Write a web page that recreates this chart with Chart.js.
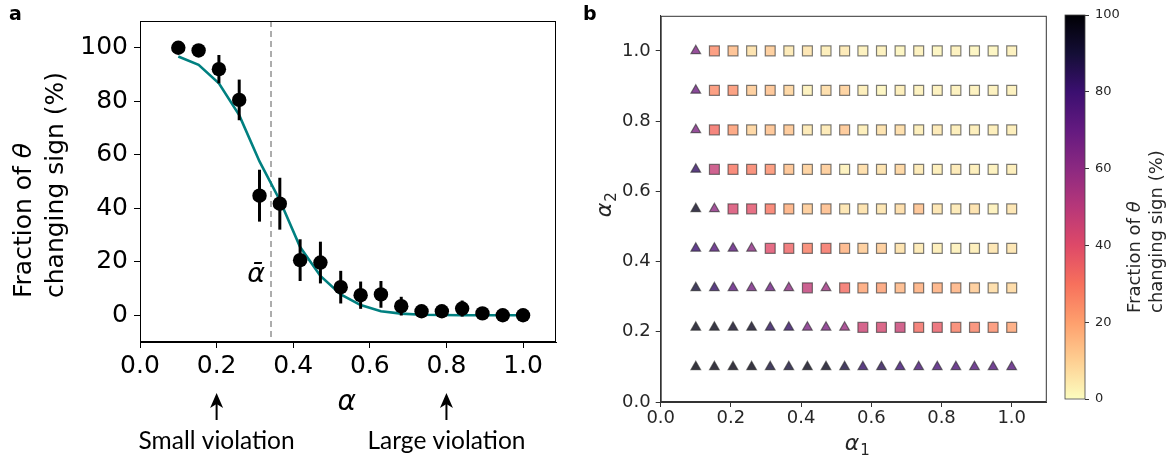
<!DOCTYPE html>
<html>
<head>
<meta charset="utf-8">
<script src="https://cdn.jsdelivr.net/npm/chart.js@4.4.1/dist/chart.umd.min.js"></script>
<style>
body{margin:0;background:#fff;width:1172px;height:462px;position:relative;overflow:hidden}
.box{position:absolute;top:0}
</style>
</head>
<body>
<div class="box" style="left:0"><canvas id="chartA" width="580" height="462"></canvas></div>
<div class="box" style="left:580px"><canvas id="chartB" width="475" height="462"></canvas></div>
<div class="box" style="left:1055px"><canvas id="chartC" width="117" height="462"></canvas></div>
<script>
// ---- panel a data
const ALPHA = [0.10, 0.153, 0.206, 0.259, 0.312, 0.365, 0.418, 0.471, 0.524, 0.576, 0.629, 0.682, 0.735, 0.788, 0.841, 0.894, 0.947, 1.00]
const FRACTION = [100, 99, 92, 80.5, 44.7, 41.7, 20.6, 19.7, 10.5, 7.5, 7.8, 3.4, 1.5, 1.5, 2.5, 0.7, 0, 0]
const FRACTION_ERR = [0, 0, 5.3, 7.6, 9.7, 9.7, 7.8, 7.8, 6.1, 5.1, 5, 3.5, 1.5, 1.5, 3, 0.5, 0, 0]
const FIT = [96.7, 93.6, 86.7, 74.8, 57.5, 43, 25.5, 14.7, 7.8, 3.8, 1.5, 0.6, 0.2, 0.1, 0, 0, 0, 0]
const ALPHA_BAR = 0.342
const X_TICKS_A = [0, 0.2, 0.4, 0.6, 0.8, 1.0]
const Y_TICKS_A = [0, 20, 40, 60, 80, 100]

// ---- panel b data (rows from alpha2 = 0.1 up to 1.0)
const ALPHA1 = [0.10, 0.153, 0.206, 0.259, 0.312, 0.365, 0.418, 0.471, 0.524, 0.576, 0.629, 0.682, 0.735, 0.788, 0.841, 0.894, 0.947, 1.00]
const ALPHA2 = [0.1, 0.2125, 0.325, 0.4375, 0.55, 0.6625, 0.775, 0.8875, 1.0]
const ROW_1 = [98, 97, 97, 97, 90, 90, 96, 95, 89, 82, 85, 80, 78, 77, 76, 75, 75, 74]
const ROW_2 = [96, 96, 94, 94, 84, 82, 64, 64, 57, 45, 43, 46, 32, 36, 28, 27, 25, 20]
const ROW_3 = [90, 82, 72, 66, 68, 60, 48, 56, 32, 20, 21, 16, 18, 18, 17, 12, 8, 9]
const ROW_4 = [80, 74, 72, 60, 40, 34, 28, 31, 17, 12, 12, 7, 5, 4, 3, 4, 6, 6]
const ROW_5 = [94, 60, 42, 39, 30, 18, 12, 15, 6, 7, 6, 8, 14, 6, 5, 7, 3, 6]
const ROW_6 = [82, 47, 30, 28, 25, 14, 11, 12, 3, 8, 7, 10, 5, 4, 5, 4, 3, 4]
const ROW_7 = [64, 32, 22, 10, 14, 13, 5, 5, 13, 4, 7, 8, 4, 5, 4, 4, 4, 4]
const ROW_8 = [68, 25, 24, 12, 14, 10, 3, 8, 11, 4, 2, 4, 3, 3, 3, 3, 3, 3]
const ROW_9 = [64, 25, 15, 7, 12, 5, 6, 4, 5, 3, 3, 2, 3, 2, 3, 2, 2, 3]
const TICKS_B = [0, 0.2, 0.4, 0.6, 0.8, 1.0]
const CB_TICKS = [0, 20, 40, 60, 80, 100]

const GRID_ROWS = [ROW_1, ROW_2, ROW_3, ROW_4, ROW_5, ROW_6, ROW_7, ROW_8, ROW_9]
const gridPoints = []
GRID_ROWS.forEach((row, j) => row.forEach((v, i) => gridPoints.push({x: ALPHA1[i], y: ALPHA2[j], v})))

// magma colour map, reversed (0 -> pale yellow, 100 -> black)
const MAGMA = ['#000004','#140e36','#3b0f70','#641a80','#8c2981','#b73779','#de4968','#f7705c','#fe9f6d','#fecf92','#fcfdbf']
const magmaRgb = MAGMA.map(h => [1, 3, 5].map(k => parseInt(h.slice(k, k + 2), 16)))
function magmaR(v, a){
    const p = (1 - v / 100) * 10
    const i = Math.min(9, Math.floor(p)), f = p - i
    const rgb = magmaRgb[i].map((c, k) => Math.round(c + (magmaRgb[i + 1][k] - c) * f))
    return `rgba(${rgb.join(',')},${a})`
}

Chart.defaults.font.family = '"DejaVu Sans", sans-serif'
Chart.defaults.animation = false
Chart.defaults.events = []
Chart.defaults.plugins.legend.display = false
Chart.defaults.plugins.tooltip.enabled = false

// two-line rotated label, "θ" in italic like matplotlib mathtext
function rotatedLabel(ctx, xs, yBottom, size, color){
    ctx.save()
    ctx.fillStyle = color
    ctx.textAlign = 'left'
    ctx.textBaseline = 'middle'
    const plain = `${size}px "DejaVu Sans"`
    const ital = `italic ${size}px "DejaVu Sans"`
    ctx.save()
    ctx.translate(xs[0], yBottom)
    ctx.rotate(-Math.PI / 2)
    ctx.font = plain
    ctx.fillText('Fraction of ', 0, 0)
    const w = ctx.measureText('Fraction of ').width
    ctx.font = ital
    ctx.fillText('θ', w, 0)
    ctx.restore()
    ctx.translate(xs[1], yBottom)
    ctx.rotate(-Math.PI / 2)
    ctx.font = plain
    ctx.fillText('changing sign (%)', 0, 0)
    ctx.restore()
}

function drawArrow(ctx, x, yTip, yTail){
    ctx.beginPath()
    ctx.moveTo(x, yTail)
    ctx.lineTo(x, yTip + 8)
    ctx.lineWidth = 2
    ctx.strokeStyle = '#000'
    ctx.stroke()
    ctx.beginPath()
    ctx.moveTo(x, yTip)
    ctx.lineTo(x - 6.5, yTip + 15)
    ctx.lineTo(x, yTip + 11)
    ctx.lineTo(x + 6.5, yTip + 15)
    ctx.closePath()
    ctx.fillStyle = '#000'
    ctx.fill()
}

// ---- panel a
const panelA = {
    id: 'panelA',
    beforeDatasetsDraw(chart){
        const {ctx, chartArea, scales: {x}} = chart
        const px = x.getPixelForValue(ALPHA_BAR)
        ctx.save()
        ctx.strokeStyle = '#999'
        ctx.lineWidth = 1.6
        ctx.setLineDash([6, 4])
        ctx.beginPath()
        ctx.moveTo(px, chartArea.top)
        ctx.lineTo(px, chartArea.bottom)
        ctx.stroke()
        ctx.restore()
    },
    afterDatasetDraw(chart, args){
        if (args.index !== 0) return
        const {ctx, scales: {x, y}} = chart
        ctx.save()
        ctx.strokeStyle = '#000'
        ctx.lineWidth = 3
        ALPHA.forEach((a, i) => {
            if (!FRACTION_ERR[i]) return
            const px = x.getPixelForValue(a)
            ctx.beginPath()
            ctx.moveTo(px, y.getPixelForValue(FRACTION[i] - FRACTION_ERR[i]))
            ctx.lineTo(px, y.getPixelForValue(FRACTION[i] + FRACTION_ERR[i]))
            ctx.stroke()
        })
        ctx.restore()
    },
    afterDraw(chart){
        const {ctx, chartArea: ca, scales: {x, y}} = chart
        ctx.save()
        ctx.strokeStyle = '#000'
        ctx.lineWidth = 1
        ctx.strokeRect(ca.left + 0.5, ca.top + 0.5, ca.right - ca.left - 1, ca.bottom - ca.top - 1)

        ctx.fillStyle = '#000'
        ctx.textAlign = 'center'
        ctx.textBaseline = 'middle'
        ctx.font = 'italic 27px "DejaVu Sans"'
        ctx.fillText('ᾱ', x.getPixelForValue(0.303), y.getPixelForValue(15))
        ctx.font = 'italic 28px "DejaVu Sans"'
        ctx.fillText('α', x.getPixelForValue(0.54), 403)

        drawArrow(ctx, x.getPixelForValue(0.2), 393, 420)
        drawArrow(ctx, x.getPixelForValue(0.8), 393, 420)
        ctx.font = '24.5px Lato'
        ctx.textBaseline = 'alphabetic'
        ctx.fillText('Small violation', x.getPixelForValue(0.2), 449)
        ctx.fillText('Large violation', x.getPixelForValue(0.8), 449)

        ctx.font = 'bold 19px "DejaVu Sans"'
        ctx.textAlign = 'left'
        ctx.fillText('a', 9, 20)
        ctx.restore()
        rotatedLabel(ctx, [24, 56], 298, 25, '#000')
    }
}

new Chart(document.getElementById('chartA'), {
    type: 'scatter',
    data: {
        datasets: [
            {type: 'line', data: ALPHA.map((a, i) => ({x: a, y: FIT[i]})), borderColor: '#008080', borderWidth: 2.6, pointRadius: 0, fill: false, order: 2},
            {data: ALPHA.map((a, i) => ({x: a, y: FRACTION[i]})), backgroundColor: '#000', borderWidth: 0, pointRadius: 7.2, order: 1}
        ]
    },
    options: {
        responsive: false,
        layout: {padding: {top: 21, right: 24, left: 0, bottom: 0}},
        scales: {
            x: {
                type: 'linear', min: 0, max: 1.086,
                afterBuildTicks: s => { s.ticks = X_TICKS_A.map(v => ({value: v})) },
                afterFit: s => { s.height = 120 },
                grid: {drawOnChartArea: false, tickLength: 6, color: '#000'},
                border: {color: '#000'},
                ticks: {font: {size: 25}, color: '#000', padding: 3, maxRotation: 0, callback: v => v.toFixed(1)}
            },
            y: {
                min: -10, max: 110,
                afterBuildTicks: s => { s.ticks = Y_TICKS_A.map(v => ({value: v})) },
                afterFit: s => { s.width = 140 },
                grid: {drawOnChartArea: false, tickLength: 6, color: '#000'},
                border: {color: '#000'},
                ticks: {font: {size: 25}, color: '#000', padding: 6}
            }
        }
    },
    plugins: [panelA]
})

// ---- panel b
const panelB = {
    id: 'panelB',
    afterDraw(chart){
        const {ctx, chartArea: ca} = chart
        ctx.save()
        ctx.strokeStyle = '#333'
        ctx.lineWidth = 1
        ctx.strokeRect(ca.left + 0.5, ca.top + 0.5, ca.right - ca.left - 1, ca.bottom - ca.top - 1)
        ctx.fillStyle = '#000'
        ctx.font = 'bold 19px "DejaVu Sans"'
        ctx.textBaseline = 'alphabetic'
        ctx.fillText('b', 3, 20)

        // alpha_1 label
        ctx.fillStyle = '#262626'
        ctx.font = 'italic 22px "DejaVu Sans"'
        ctx.textAlign = 'center'
        ctx.fillText('α', 272, 450)
        ctx.font = '15px "DejaVu Sans"'
        ctx.fillText('1', 285, 455)
        // alpha_2 label
        ctx.translate(25, 210)
        ctx.rotate(-Math.PI / 2)
        ctx.font = 'italic 22px "DejaVu Sans"'
        ctx.fillText('α', 0, 6)
        ctx.font = '15px "DejaVu Sans"'
        ctx.fillText('2', 13, 11)
        ctx.restore()
    }
}

new Chart(document.getElementById('chartB'), {
    type: 'scatter',
    data: {
        datasets: [{
            data: gridPoints,
            backgroundColor: c => magmaR(c.raw.v, 0.8),
            borderColor: 'rgba(40,40,40,0.6)',
            borderWidth: 1.2,
            pointStyle: c => c.raw.v > 50 ? 'triangle' : 'rect',
            pointRadius: c => c.raw.v > 50 ? 5.6 : 7
        }]
    },
    options: {
        responsive: false,
        layout: {padding: {top: 9, right: 6.7, left: 0, bottom: 0}},
        scales: {
            x: {
                type: 'linear', min: 0, max: 1.1,
                afterBuildTicks: s => { s.ticks = TICKS_B.map(v => ({value: v})) },
                afterFit: s => { s.height = 60 },
                grid: {drawOnChartArea: false, tickLength: 5, color: '#333'},
                border: {color: '#333'},
                ticks: {font: {size: 18}, color: '#262626', padding: 1, maxRotation: 0, callback: v => v.toFixed(1)}
            },
            y: {
                min: 0, max: 1.1,
                afterBuildTicks: s => { s.ticks = TICKS_B.map(v => ({value: v})) },
                afterFit: s => { s.width = 80.7 },
                grid: {drawOnChartArea: false, tickLength: 5, color: '#333'},
                border: {color: '#333'},
                ticks: {font: {size: 18}, color: '#262626', padding: 5, callback: v => v.toFixed(1)}
            }
        }
    },
    plugins: [panelB]
})

// ---- colour bar
const colorBar = {
    id: 'colorBar',
    afterDraw(chart){
        const {ctx, chartArea: ca} = chart
        ctx.save()
        ctx.strokeStyle = '#444'
        ctx.lineWidth = 0.8
        ctx.strokeRect(ca.left, ca.top, ca.right - ca.left, ca.bottom - ca.top)
        ctx.restore()
        rotatedLabel(ctx, [80, 102], 313, 18, '#262626')
    }
}

new Chart(document.getElementById('chartC'), {
    type: 'bar',
    data: {
        labels: [''],
        datasets: [{
            data: [[0, 100]],
            barPercentage: 1,
            categoryPercentage: 1,
            borderWidth: 0,
            backgroundColor: c => {
                const area = c.chart.chartArea
                if (!area) return '#fff'
                const g = c.chart.ctx.createLinearGradient(0, area.bottom, 0, area.top)
                MAGMA.forEach((col, k) => g.addColorStop(1 - k / 10, col))
                return g
            }
        }]
    },
    options: {
        responsive: false,
        layout: {padding: {top: 15, left: 10, right: 0, bottom: 63}},
        scales: {
            x: {display: false},
            y: {
                position: 'right', min: 0, max: 100,
                afterBuildTicks: s => { s.ticks = CB_TICKS.map(v => ({value: v})) },
                afterFit: s => { s.width = 87 },
                grid: {drawOnChartArea: false, tickLength: 4, color: '#333'},
                border: {display: false},
                ticks: {font: {size: 13}, color: '#262626', padding: 6}
            }
        }
    },
    plugins: [colorBar]
})
</script>
</body>
</html>
